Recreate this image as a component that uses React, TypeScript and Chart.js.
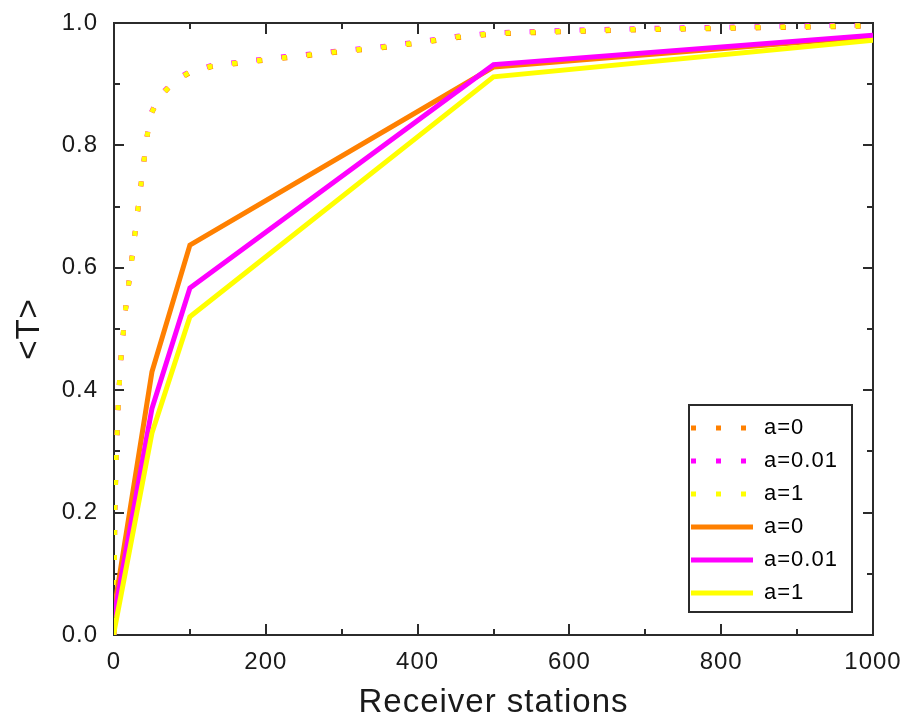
import React, { useEffect, useRef } from 'react';
import { Chart, registerables } from 'chart.js';

Chart.register(...registerables);

// ---- data ----
const X_MAJOR = [0, 200, 400, 600, 800, 1000];
const X_MINOR = [100, 300, 500, 700, 900];
const Y_MAJOR = [0, 0.2, 0.4, 0.6, 0.8, 1.0];
const Y_MINOR = [0.1, 0.3, 0.5, 0.7, 0.9];

const LABELS = ['a=0', 'a=0.01', 'a=1'];

const DOT_X = [0, 1, 3, 5, 7, 9, 12, 15, 19, 23, 27, 31, 35, 39, 43, 48, 60, 80, 100, 130, 170, 210, 250, 300, 350, 400, 450, 500, 600, 700, 800, 900, 1000];
const DOT_A0 = [0, 0.2, 0.29, 0.36, 0.41, 0.45, 0.49, 0.53, 0.57, 0.61, 0.65, 0.69, 0.73, 0.769, 0.809, 0.849, 0.879, 0.904, 0.919, 0.929, 0.935, 0.941, 0.946, 0.953, 0.959, 0.967, 0.976, 0.982, 0.986, 0.989, 0.991, 0.993, 0.995];
const DOT_A001 = [0, 0.2, 0.29, 0.36, 0.41, 0.45, 0.49, 0.53, 0.57, 0.61, 0.65, 0.69, 0.73, 0.771, 0.811, 0.851, 0.881, 0.906, 0.921, 0.931, 0.937, 0.943, 0.948, 0.955, 0.961, 0.969, 0.978, 0.984, 0.988, 0.991, 0.993, 0.995, 0.997];
const DOT_A1 = [0, 0.2, 0.29, 0.36, 0.41, 0.45, 0.49, 0.53, 0.57, 0.61, 0.65, 0.69, 0.73, 0.77, 0.81, 0.85, 0.88, 0.905, 0.92, 0.93, 0.936, 0.942, 0.947, 0.954, 0.96, 0.968, 0.977, 0.983, 0.987, 0.99, 0.992, 0.994, 0.996];

const SOLID_X = [0, 50, 100, 500, 1000];
const SOLID_A0 = [0.04, 0.43, 0.637, 0.928, 0.978];
const SOLID_A001 = [0.03, 0.37, 0.567, 0.932, 0.98];
const SOLID_A1 = [0.005, 0.33, 0.52, 0.912, 0.972];

// ---- styles ----
const ORANGE = '#FF8000';
const MAGENTA = '#FF00FF';
const YELLOW = '#FFFF00';
const AXIS = '#2b2b2b';
const TEXT = '#1a1a1a';
const FONT = "'Liberation Sans', Arial, sans-serif";

const pts = (xs: number[], ys: number[]) => xs.map((x, i) => ({ x, y: ys[i] }));

const textSpacing = {
  id: 'textSpacing',
  beforeUpdate(chart: any) {
    chart.ctx.letterSpacing = '1px';
  },
  beforeDraw(chart: any) {
    chart.ctx.letterSpacing = '1px';
  },
};

const frameTicks = {
  id: 'frameTicks',
  beforeDatasetsDraw(chart: any) {
    const { ctx, chartArea } = chart;
    const { left, right, top, bottom } = chartArea;
    const xs = chart.scales.x;
    const ys = chart.scales.y;
    ctx.save();
    ctx.strokeStyle = AXIS;
    ctx.lineWidth = 2;
    ctx.beginPath();
    ctx.moveTo(left - 1, top);
    ctx.lineTo(right, top);
    ctx.lineTo(right, bottom + 1);
    ctx.stroke();
    const xt = (vals: number[], len: number) => {
      vals.forEach((v) => {
        const p = Math.round(xs.getPixelForValue(v));
        ctx.moveTo(p, bottom);
        ctx.lineTo(p, bottom - len);
        ctx.moveTo(p, top);
        ctx.lineTo(p, top + len);
      });
    };
    const yt = (vals: number[], len: number) => {
      vals.forEach((v) => {
        const p = Math.round(ys.getPixelForValue(v));
        ctx.moveTo(left, p);
        ctx.lineTo(left + len, p);
        ctx.moveTo(right, p);
        ctx.lineTo(right - len, p);
      });
    };
    ctx.beginPath();
    xt(X_MAJOR, 11);
    xt(X_MINOR, 6);
    yt(Y_MAJOR, 10);
    yt(Y_MINOR, 6);
    ctx.stroke();
    ctx.restore();
  },
};

const legendPlacer = {
  id: 'legendPlacer',
  afterLayout(chart: any) {
    const lg = chart.legend;
    if (!lg) return;
    const ca = chart.chartArea;
    const w = lg.width;
    const h = lg.height;
    lg.left = ca.right - 193;
    lg.top = ca.bottom - 229;
    lg.right = lg.left + w;
    lg.bottom = lg.top + h;
  },
  afterDraw(chart: any) {
    const lg = chart.legend;
    if (!lg) return;
    const ctx = chart.ctx;
    ctx.save();
    ctx.strokeStyle = AXIS;
    ctx.lineWidth = 2;
    ctx.strokeRect(lg.left + 9, lg.top - 1, 163, 207);
    ctx.restore();
  },
};

const noScalePadding = (s: any) => {
  s.paddingTop = 0;
  s.paddingBottom = 0;
  s.paddingLeft = 0;
  s.paddingRight = 0;
};

export default function App() {
  const ref = useRef<HTMLCanvasElement | null>(null);

  useEffect(() => {
    if (!ref.current) return;
    const dotted = { borderDash: [5, 20], borderWidth: 5, borderCapStyle: 'butt' };
    const solid = { borderWidth: 5 };
    const chart = new Chart(ref.current, {
      type: 'line',
      data: {
        datasets: [
          { label: LABELS[0], data: pts(DOT_X, DOT_A0), borderColor: ORANGE, backgroundColor: ORANGE, order: 6, ...dotted },
          { label: LABELS[1], data: pts(DOT_X, DOT_A001), borderColor: MAGENTA, backgroundColor: MAGENTA, order: 5, ...dotted },
          { label: LABELS[2], data: pts(DOT_X, DOT_A1), borderColor: YELLOW, backgroundColor: YELLOW, order: 4, ...dotted },
          { label: LABELS[0], data: pts(SOLID_X, SOLID_A0), borderColor: ORANGE, backgroundColor: ORANGE, order: 3, ...solid },
          { label: LABELS[1], data: pts(SOLID_X, SOLID_A001), borderColor: MAGENTA, backgroundColor: MAGENTA, order: 2, ...solid },
          { label: LABELS[2], data: pts(SOLID_X, SOLID_A1), borderColor: YELLOW, backgroundColor: YELLOW, order: 1, ...solid },
        ] as any,
      },
      options: {
        animation: false,
        responsive: false,
        events: [],
        layout: { padding: { left: 0, top: 23, right: 30, bottom: 0 } },
        elements: { point: { radius: 0 }, line: { tension: 0 } },
        scales: {
          x: {
            type: 'linear',
            min: 0,
            max: 1000,
            grid: { display: false, drawTicks: false },
            border: { display: true, color: AXIS, width: 2 },
            afterBuildTicks: (s: any) => {
              s.ticks = X_MAJOR.map((v) => ({ value: v }));
            },
            afterFit: (s: any) => {
              s.height = 84;
              noScalePadding(s);
            },
            ticks: {
              padding: 13,
              maxRotation: 0,
              autoSkip: false,
              color: TEXT,
              font: { family: FONT, size: 24 },
              callback: (v: any) => String(v),
            },
            title: {
              display: true,
              text: 'Receiver stations',
              color: TEXT,
              font: { family: FONT, size: 33, lineHeight: 1 },
              padding: { top: 0, bottom: 0 },
            },
          },
          y: {
            type: 'linear',
            min: 0,
            max: 1,
            grid: { display: false, drawTicks: false },
            border: { display: true, color: AXIS, width: 2 },
            afterBuildTicks: (s: any) => {
              s.ticks = Y_MAJOR.map((v) => ({ value: v }));
            },
            afterFit: (s: any) => {
              s.width = 114;
              noScalePadding(s);
            },
            ticks: {
              padding: 16,
              color: TEXT,
              font: { family: FONT, size: 24 },
              callback: (v: any) => Number(v).toFixed(1),
            },
            title: {
              display: true,
              text: '<T>',
              color: TEXT,
              font: { family: FONT, size: 33, lineHeight: 1 },
              padding: { top: 13, bottom: 0 },
            },
          },
        },
        plugins: {
          tooltip: { enabled: false },
          legend: {
            display: true,
            position: 'chartArea',
            align: 'start',
            labels: {
              usePointStyle: true,
              pointStyle: 'line',
              pointStyleWidth: 62,
              boxHeight: 22,
              padding: 11,
              color: '#000',
              font: { family: FONT, size: 22 },
              sort: (a: any, b: any) => a.datasetIndex - b.datasetIndex,
              generateLabels: (c: any) => {
                const items = (Chart.defaults as any).plugins.legend.labels.generateLabels(c);
                items.forEach((it: any) => {
                  const ds = c.data.datasets[it.datasetIndex];
                  it.lineDash = ds.borderDash || [];
                  it.lineDashOffset = 0;
                  it.lineWidth = ds.borderWidth;
                  it.strokeStyle = ds.borderColor;
                  it.fillStyle = ds.borderColor;
                  it.lineCap = 'butt';
                  it.pointStyle = 'line';
                });
                return items;
              },
            },
          },
        },
      } as any,
      plugins: [textSpacing, frameTicks, legendPlacer],
    });
    return () => chart.destroy();
  }, []);

  return (
    <div style={{ position: 'absolute', left: 0, top: 0, width: 903, height: 719, background: '#fff' }}>
      <canvas ref={ref} width={903} height={719} style={{ display: 'block' }} />
    </div>
  );
}
